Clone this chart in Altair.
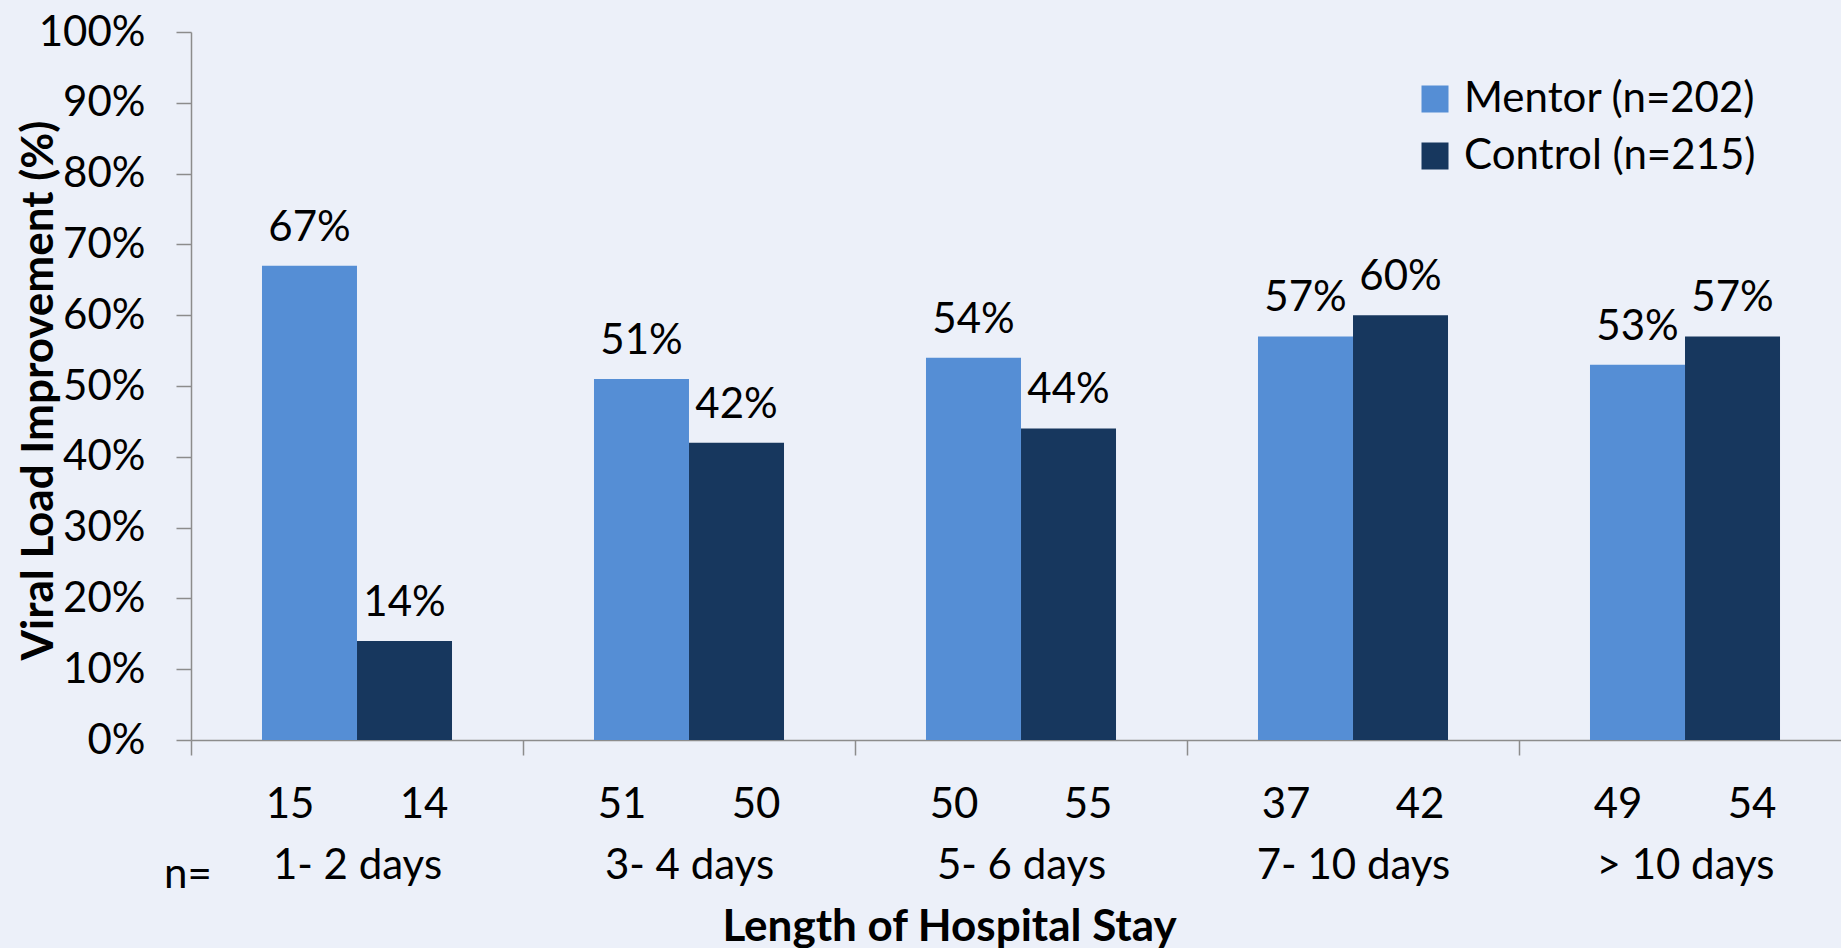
import altair as alt
import pandas as pd

stays = ["1- 2 days", "3- 4 days", "5- 6 days", "7- 10 days", "> 10 days"]
mentor_pct = [67, 51, 54, 57, 53]
control_pct = [14, 42, 44, 60, 57]
mentor_n = [15, 51, 50, 37, 49]
control_n = [14, 50, 55, 42, 54]
groups = ["Mentor (n=202)", "Control (n=215)"]
colors = ["#558ED5", "#17375E"]

rows = []
for i, s in enumerate(stays):
    rows.append({"stay": s, "group": groups[0], "pct": mentor_pct[i] / 100, "n": mentor_n[i]})
    rows.append({"stay": s, "group": groups[1], "pct": control_pct[i] / 100, "n": control_n[i]})
df = pd.DataFrame(rows)

FONT = "Lato"
W, H = 1650, 708

x_enc = alt.X(
    "stay:N",
    sort=stays,
    scale=alt.Scale(paddingInner=0, paddingOuter=0, range=[0, 1660]),
    axis=alt.Axis(
        title="Length of Hospital Stay",
        titleFont=FONT, titleFontSize=44, titleFontWeight="bold", titleColor="black",
        titleX=758, titleY=200, titleBaseline="alphabetic", titleAlign="center",
        labelFont=FONT, labelFontSize=42, labelColor="black", labelAngle=0,
        labelBaseline="alphabetic", labelPadding=123, labelLimit=0,
        tickBand="extent", tickSize=15, tickColor="#8C8C8C", tickWidth=1.5,
        domainColor="#8C8C8C", domainWidth=1.5, grid=False,
    ),
)
xoff = alt.XOffset("group:N", sort=groups,
                   scale=alt.Scale(domain=groups, paddingInner=0, paddingOuter=0.747))
y_enc = alt.Y(
    "pct:Q",
    scale=alt.Scale(domain=[0, 1], nice=False),
    axis=alt.Axis(
        title="Viral Load Improvement (%)",
        titleFont=FONT, titleFontSize=44, titleFontWeight="bold", titleColor="black",
        titleX=-139, titleY=358, titleBaseline="alphabetic", titleAlign="center", titleAngle=270,
        values=[i / 10 for i in range(11)], format=".0%",
        labelFont=FONT, labelFontSize=42, labelColor="black", labelPadding=31,
        tickSize=15, tickColor="#8C8C8C", tickWidth=1.5,
        domainColor="#8C8C8C", domainWidth=1.5, grid=False,
    ),
)
color_enc = alt.Color(
    "group:N", sort=groups,
    scale=alt.Scale(domain=groups, range=colors),
    legend=alt.Legend(
        title=None, orient="none", legendX=1223, legendY=46,
        symbolType="square", symbolSize=729, symbolStrokeWidth=0, symbolOpacity=1,
        labelFont=FONT, labelFontSize=42, labelColor="black", labelOffset=8,
        labelLimit=0, rowPadding=15, padding=0,
    ),
)

base = alt.Chart(df)
bars = base.mark_bar(size=95).encode(x=x_enc, xOffset=xoff, y=y_enc, color=color_enc)
vals = base.mark_text(font=FONT, fontSize=42, baseline="alphabetic", dy=-25, color="black").encode(
    x=alt.X("stay:N", sort=stays), xOffset=alt.XOffset("group:N", sort=groups), y="pct:Q",
    text=alt.Text("pct:Q", format=".0%"),
)
n_m = base.transform_filter(alt.datum.group == groups[0]).mark_text(
    font=FONT, fontSize=42, baseline="alphabetic", dx=-67, color="black"
).encode(x=alt.X("stay:N", sort=stays), y=alt.value(H + 78), text="n:Q")
n_c = base.transform_filter(alt.datum.group == groups[1]).mark_text(
    font=FONT, fontSize=42, baseline="alphabetic", dx=67, color="black"
).encode(x=alt.X("stay:N", sort=stays), y=alt.value(H + 78), text="n:Q")
n_eq = alt.Chart(pd.DataFrame({"t": ["n="]})).mark_text(
    font=FONT, fontSize=42, baseline="alphabetic", align="center", color="black"
).encode(x=alt.value(-3), y=alt.value(H + 148), text="t:N")

chart = alt.layer(bars, vals, n_m, n_c, n_eq).properties(
    width=W, height=H,
    autosize=alt.AutoSizeParams(type="none"),
    padding={"left": 191, "top": 32, "right": 0, "bottom": 208},
    background="#ECF0F9",
).configure_view(stroke=None)

chart.save("out.html", embed_options={"renderer": "svg", "actions": False})
